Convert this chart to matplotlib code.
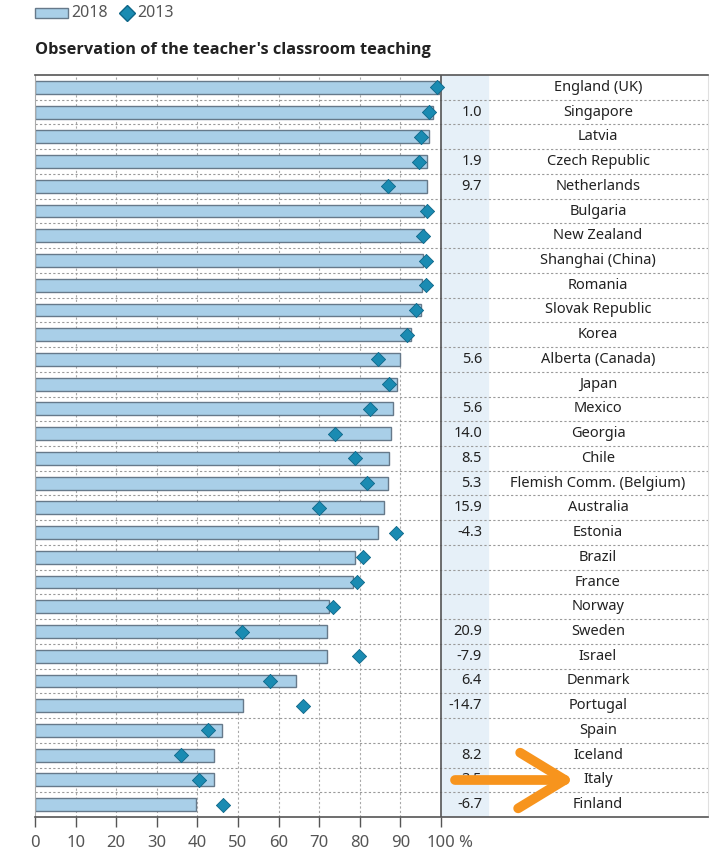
import matplotlib
matplotlib.use("Agg")
import matplotlib.pyplot as plt
from matplotlib.patches import Rectangle
from matplotlib.lines import Line2D

plt.rcParams['font.family'] = ['Noto Sans', 'DejaVu Sans']

countries = ["England (UK)", "Singapore", "Latvia", "Czech Republic", "Netherlands",
             "Bulgaria", "New Zealand", "Shanghai (China)", "Romania", "Slovak Republic",
             "Korea", "Alberta (Canada)", "Japan", "Mexico", "Georgia", "Chile",
             "Flemish Comm. (Belgium)", "Australia", "Estonia", "Brazil", "France",
             "Norway", "Sweden", "Israel", "Denmark", "Portugal", "Spain", "Iceland",
             "Italy", "Finland"]
v2018 = [99.6, 98.0, 97.1, 96.6, 96.6, 95.9, 95.8, 95.5, 95.2, 95.0,
         92.6, 90.0, 89.1, 88.1, 87.8, 87.3, 87.0, 85.9, 84.6, 78.8,
         78.4, 72.5, 72.0, 71.9, 64.2, 51.2, 46.0, 44.1, 44.0, 39.6]
v2013 = [99.0, 97.0, 95.0, 94.7, 86.9, 96.5, 95.6, 96.2, 96.2, 93.8,
         91.7, 84.4, 87.2, 82.5, 73.8, 78.8, 81.7, 70.0, 88.9, 80.9,
         79.4, 73.3, 51.1, 79.8, 57.8, 65.9, 42.6, 35.9, 40.5, 46.3]
change = ["", "1.0", "", "1.9", "9.7", "", "", "", "", "",
          "", "5.6", "", "5.6", "14.0", "8.5", "5.3", "15.9", "-4.3", "",
          "", "", "20.9", "-7.9", "6.4", "-14.7", "", "8.2", "3.5", "-6.7"]
ticks = list(range(0, 101, 10))

bar_fill = "#a9cfe8"
bar_edge = "#66798a"
dia_fill = "#1a8bb2"
dia_edge = "#0e6688"
txt = "#222222"

W, H = 710, 858
fig = plt.figure(figsize=(W / 100, H / 100), dpi=100)
x_left, x_right, y_top, y_bot = 35, 708, 75, 817
ax = fig.add_axes([x_left / W, 1 - y_bot / H, (x_right - x_left) / W, (y_bot - y_top) / H])
px_per_unit = (441 - 35) / 100
xmax = (x_right - x_left) / px_per_unit
n = len(countries)
ax.set_xlim(0, xmax)
ax.set_ylim(n - 0.5, -0.5)
rows = list(range(n))

# shaded column with the changes
ax.axvspan(100, (488 - 35) / px_per_unit, color="#e6f0f8", zorder=0)

# grid
for g in ticks[1:-1]:
    ax.axvline(g, color="#a8a8a8", lw=0.8, ls=(0, (2, 2)), zorder=1)
for r in range(n - 1):
    ax.axhline(r + 0.5, color="#9a9a9a", lw=0.8, ls=(0, (2, 2)), zorder=1)
ax.axvline(100, color="#555555", lw=1.2, zorder=3)

ax.barh(rows, v2018, height=0.52, color=bar_fill, edgecolor=bar_edge, lw=1.0, zorder=2)
ax.scatter(v2013, rows, marker="D", s=52, color=dia_fill, edgecolor=dia_edge, lw=0.6, zorder=4)

val_x = (482 - 35) / px_per_unit
name_x = (598 - 35) / px_per_unit
for r in rows:
    if change[r]:
        ax.text(val_x, r, change[r], ha="right", va="center", fontsize=10.5, color=txt)
    ax.text(name_x, r, countries[r], ha="center", va="center", fontsize=10.5, color=txt)

ax.set_xticks(ticks)
ax.set_xticklabels([str(t) for t in ticks])
ax.tick_params(axis="x", direction="out", length=7, width=1, color="#555555",
               labelsize=12, labelcolor="#555555", pad=6)
ax.annotate("%", xy=(100, 0), xycoords=ax.get_xaxis_transform(), xytext=(12, -13),
            textcoords="offset points", ha="left", va="top", fontsize=12, color="#555555")
ax.set_yticks([])
for s in ["top", "bottom"]:
    ax.spines[s].set_color("#555555")
    ax.spines[s].set_linewidth(1.2)
ax.spines["left"].set_color("#aaaaaa")
ax.spines["left"].set_linewidth(0.8)
ax.spines["right"].set_color("#e0e0e0")

# orange annotation arrow pointing at Italy
ia = countries.index("Italy")
orange = "#f7941d"
ax.plot([103.5, 130.5], [ia, ia], color=orange, lw=7, solid_capstyle="round", zorder=6)
ax.plot([119.5, 130.5, 119.0], [ia - 1.1, ia, ia + 1.15], color=orange, lw=7,
        solid_capstyle="round", solid_joinstyle="round", zorder=6)

fig.text(x_left / W, 1 - 50 / H, "Observation of the teacher's classroom teaching",
         fontsize=11.8, fontweight="bold", family=["Open Sans", "DejaVu Sans"],
         color="#222222", va="center")

# legend drawn in figure pixels
fig.add_artist(Rectangle((35 / W, 1 - 18 / H), 33 / W, 10 / H, transform=fig.transFigure,
                         facecolor=bar_fill, edgecolor=bar_edge, lw=1.0))
fig.text(71 / W, 1 - 13 / H, "2018", fontsize=11.5, color="#555555", va="center")
fig.add_artist(Line2D([127 / W], [1 - 13 / H], transform=fig.transFigure, marker="D",
                      markersize=8, markerfacecolor=dia_fill, markeredgecolor=dia_edge, ls="none"))
fig.text(137 / W, 1 - 13 / H, "2013", fontsize=11.5, color="#555555", va="center")

fig.savefig("out.png", dpi=100)
